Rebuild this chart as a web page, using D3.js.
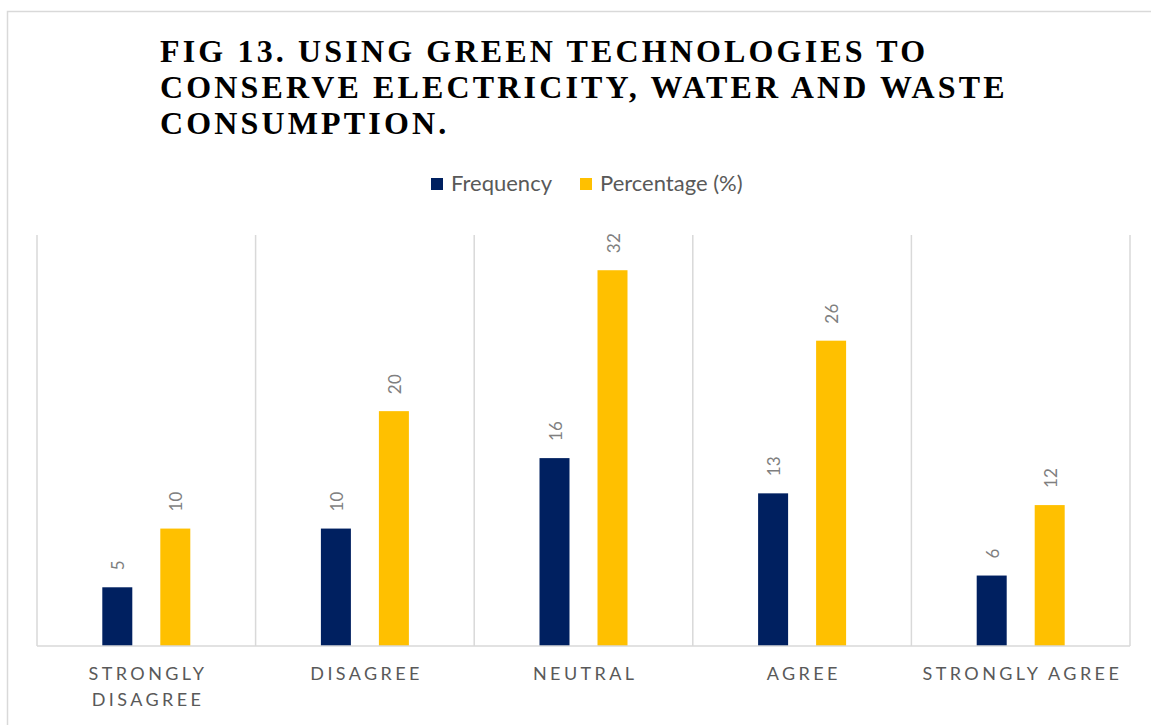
<!DOCTYPE html>
<html><head><meta charset="utf-8">
<script src="https://cdn.jsdelivr.net/npm/d3@7"></script>
<style>body{margin:0;background:#fff;}svg{display:block;}</style>
</head><body>
<svg id="chart" width="1151" height="725"></svg>
<script>
const categories = ["STRONGLY DISAGREE", "DISAGREE", "NEUTRAL", "AGREE", "STRONGLY AGREE"];
const categoryLines = [["STRONGLY", "DISAGREE"], ["DISAGREE"], ["NEUTRAL"], ["AGREE"], ["STRONGLY AGREE"]];
const seriesNames = ["Frequency", "Percentage (%)"];
const frequency = [5, 10, 16, 13, 6];
const percentage = [10, 20, 32, 26, 12];
const colors = ["#002060", "#FFC000"];
const titleLines = ["FIG 13. USING GREEN TECHNOLOGIES TO", "CONSERVE ELECTRICITY, WATER AND WASTE", "CONSUMPTION."];

const sans = "Lato, 'Open Sans', sans-serif";
const svg = d3.select("#chart");
// chart area border
svg.append("rect").attr("x", 7.5).attr("y", 11.5).attr("width", 1160).attr("height", 730)
  .attr("fill", "#fff").attr("stroke", "#d9d9d9").attr("stroke-width", 1.5);

// title
const title = svg.append("text").attr("font-family", "'Liberation Serif', 'Times New Roman', serif")
  .attr("font-weight", "bold").attr("font-size", 32).attr("letter-spacing", 3.15).attr("fill", "#000");
titleLines.forEach((t, i) => title.append("tspan").attr("x", 160).attr("y", 62 + i * 36).text(t));

// legend
const legend = svg.append("g").attr("font-family", sans).attr("font-size", 22).attr("fill", "#595959");
const legendX = [431, 580];
seriesNames.forEach((s, i) => {
  legend.append("rect").attr("x", legendX[i]).attr("y", 178).attr("width", 12).attr("height", 12).attr("fill", colors[i]);
  legend.append("text").attr("x", legendX[i] + 20).attr("y", 191).text(s);
});

const margin = {left: 37, right: 1130, top: 235, bottom: 646};
const x0 = d3.scaleBand().domain(categories).range([margin.left, margin.right]).padding(0);
const x1 = d3.scaleBand().domain(seriesNames).range([-58, 58]).padding(0);
const y = d3.scaleLinear().domain([0, 35]).range([margin.bottom, margin.top]);

// vertical gridlines (category separators)
const gridXs = categories.map(c => x0(c)).concat([x0.range()[1]]);
svg.append("g").selectAll("line").data(gridXs).join("line")
  .attr("x1", d => d).attr("x2", d => d).attr("y1", margin.top).attr("y2", margin.bottom)
  .attr("stroke", "#d9d9d9").attr("stroke-width", 1.5);

// bars
const series = [frequency, percentage];
const barW = 30;
series.forEach((vals, si) => {
  const g = svg.append("g");
  g.selectAll("rect").data(vals).join("rect")
    .attr("x", (d, i) => x0(categories[i]) + x0.bandwidth() / 2 + x1(seriesNames[si]) + x1.bandwidth() / 2 - barW / 2)
    .attr("y", d => y(d)).attr("width", barW).attr("height", d => y(0) - y(d))
    .attr("fill", colors[si]);
  g.selectAll("text").data(vals).join("text")
    .attr("transform", (d, i) => {
      const cx = x0(categories[i]) + x0.bandwidth() / 2 + x1(seriesNames[si]) + x1.bandwidth() / 2;
      return `translate(${cx + 7},${y(d) - 17}) rotate(-90)`;
    })
    .attr("font-family", sans)
    .attr("font-size", 17).attr("fill", "#7f7f7f").attr("letter-spacing", 0.3).text(d => d);
});

// x axis baseline
svg.append("line").attr("x1", margin.left).attr("x2", margin.right).attr("y1", margin.bottom).attr("y2", margin.bottom)
  .attr("stroke", "#d9d9d9").attr("stroke-width", 1.5);

// category labels
const xl = svg.append("g").attr("font-family", sans)
  .attr("font-size", 18).attr("fill", "#595959").attr("letter-spacing", 3.4).attr("text-anchor", "middle");
categories.forEach((c, i) => {
  const t = xl.append("text");
  categoryLines[i].forEach((ln, j) => t.append("tspan").attr("x", x0(c) + x0.bandwidth() / 2 + 1.7).attr("y", 680 + j * 26).text(ln));
});
</script>
</body></html>
